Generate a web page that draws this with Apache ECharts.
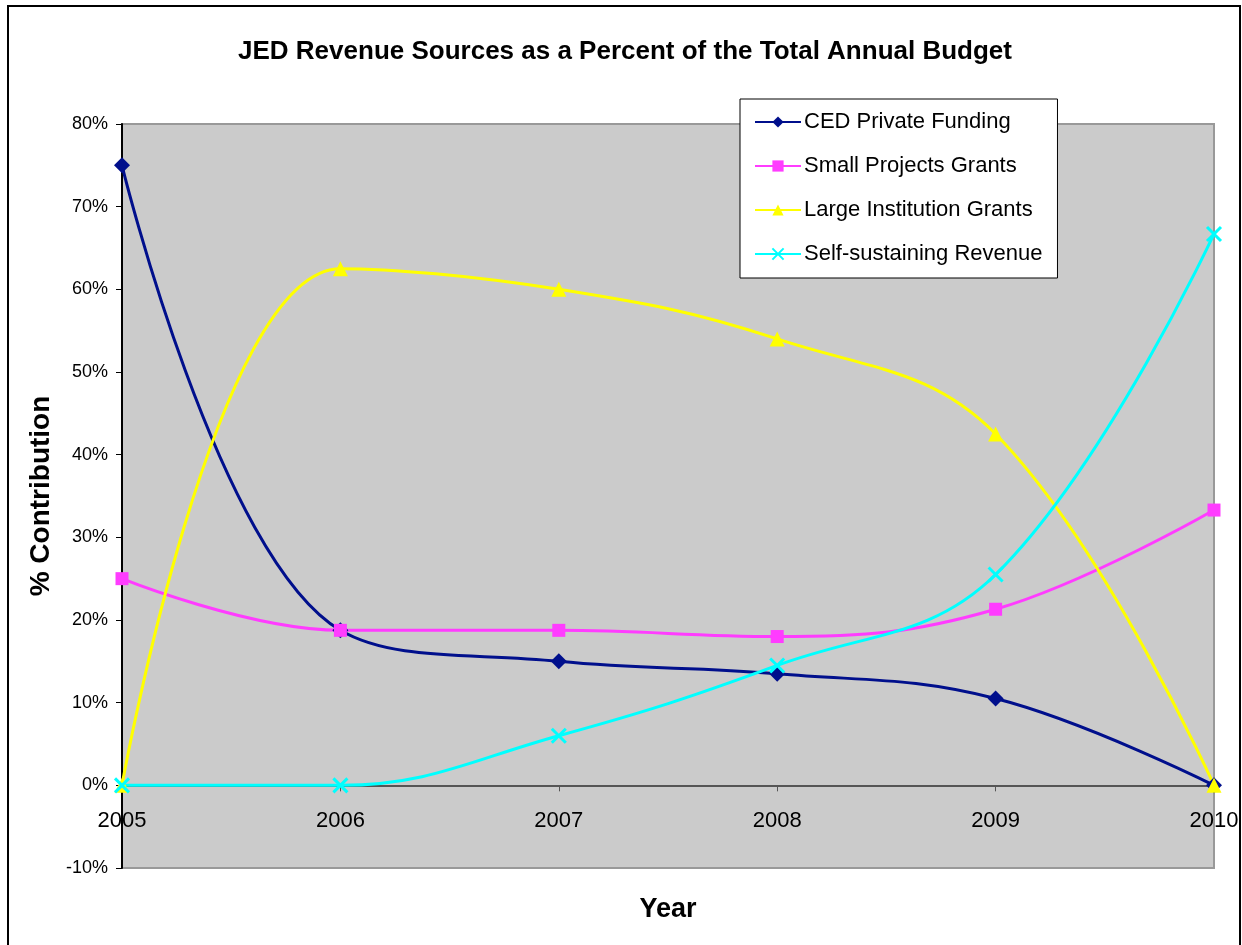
<!DOCTYPE html>
<html>
<head>
<meta charset="utf-8">
<script src="https://cdn.jsdelivr.net/npm/echarts@6/dist/echarts.min.js"></script>
<style>
  html, body { margin: 0; padding: 0; background: #fff; }
  #chart { width: 1242px; height: 945px; }
</style>
</head>
<body>
<div id="chart"></div>
<script>
var years = ['2005', '2006', '2007', '2008', '2009', '2010'];
var cedPrivate = [75, 18.75, 15, 13.5, 10.5, 0];
var smallProjects = [25, 18.75, 18.75, 18, 21.3, 33.3];
var largeInstitution = [0, 62.5, 60, 54, 42.5, 0];
var selfSustaining = [0, 0, 6, 14.5, 25.5, 66.7];

var font = 'Liberation Sans, Arial, sans-serif';

function lineSeries(name, data, color, symbol, size) {
  return {
    name: name,
    type: 'line',
    data: data,
    smooth: 0.4,
    symbol: symbol,
    symbolSize: size,
    showAllSymbol: true,
    lineStyle: { color: color, width: 3 },
    itemStyle: { color: color },
    z: 3
  };
}

var myChart = echarts.init(document.getElementById('chart'));

var option = {
  backgroundColor: '#fff',
  animation: false,
  textStyle: { fontFamily: font },
  title: {
    text: 'JED Revenue Sources as a Percent of the Total Annual Budget',
    left: 620,
    textAlign: 'center',
    top: 34,
    textStyle: { fontSize: 26, fontWeight: 'bold', color: '#000', fontFamily: font }
  },
  graphic: [
    {
      type: 'rect',
      shape: { x: 8, y: 6, width: 1232, height: 950 },
      style: { fill: 'none', stroke: '#000', lineWidth: 2 },
      z: -1
    }
  ],
  legend: {
    orient: 'vertical',
    left: 740,
    top: 99,
    padding: [12, 15, 13, 14],
    itemGap: 22,
    itemWidth: 46,
    itemHeight: 14,
    backgroundColor: '#fff',
    borderColor: '#000',
    borderWidth: 1,
    textStyle: { fontSize: 22, color: '#000', fontFamily: font, padding: [0, 0, 0, -2] },
    data: ['CED Private Funding', 'Small Projects Grants', 'Large Institution Grants', 'Self-sustaining Revenue']
  },
  grid: {
    left: 122,
    right: 28,
    top: 124,
    bottom: 77,
    outerBoundsMode: 'none',
    containLabel: false,
    show: true,
    backgroundColor: '#cbcbcb',
    borderColor: '#999',
    borderWidth: 2
  },
  xAxis: {
    type: 'category',
    data: years,
    boundaryGap: false,
    name: 'Year',
    nameLocation: 'middle',
    nameGap: 28,
    nameTextStyle: { fontSize: 27, fontWeight: 'bold', color: '#000', fontFamily: font },
    axisLine: { onZero: true, lineStyle: { color: '#555', width: 2 } },
    axisTick: { show: true, length: 6, lineStyle: { color: '#555' } },
    axisLabel: { inside: true, fontSize: 22, color: '#000', margin: 36, fontFamily: font }
  },
  yAxis: {
    type: 'value',
    min: -10,
    max: 80,
    interval: 10,
    name: '% Contribution',
    nameLocation: 'middle',
    nameGap: 64,
    nameTextStyle: { fontSize: 28, fontWeight: 'bold', color: '#000', fontFamily: font },
    splitLine: { show: false },
    axisLine: { show: true, lineStyle: { color: '#000', width: 2 } },
    axisTick: { show: true, length: 6, lineStyle: { color: '#000' } },
    axisLabel: { fontSize: 18, color: '#000', margin: 14, formatter: '{value}%', fontFamily: font }
  },
  series: [
    lineSeries('CED Private Funding', cedPrivate, '#000f8c', 'diamond', 16),
    lineSeries('Small Projects Grants', smallProjects, '#ff3cff', 'rect', 13),
    lineSeries('Large Institution Grants', largeInstitution, '#ffff00', 'triangle', 15),
    lineSeries('Self-sustaining Revenue', selfSustaining, '#00ffff', 'path://M0,0L2,2M2,0L0,2', 14)
  ]
};

// cross marker needs a stroke, not a fill
option.series[3].itemStyle = { color: 'none', borderColor: '#00ffff', borderWidth: 3 };

myChart.setOption(option);
</script>
</body>
</html>
